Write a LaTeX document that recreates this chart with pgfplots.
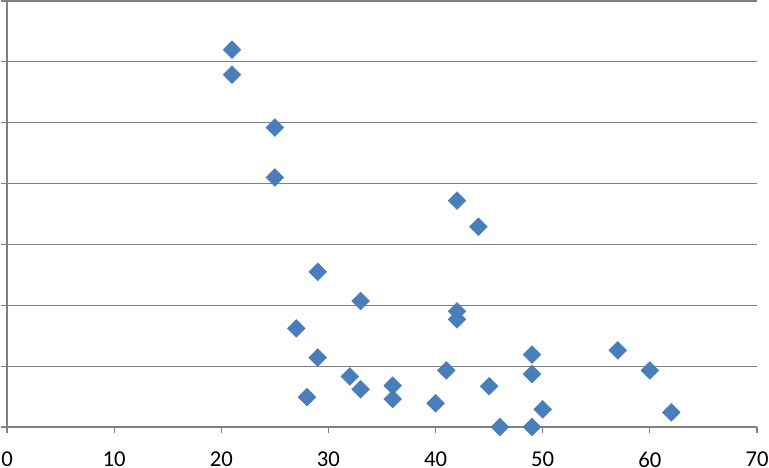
\documentclass[border=0pt]{standalone}
\usepackage{pgfplots}
\pgfplotsset{compat=1.18}
\usepackage{fontspec}
\setmainfont{Carlito}
\definecolor{mk}{HTML}{4A7EBB}
\definecolor{gr}{HTML}{808080}
\begin{document}
\begin{tikzpicture}
\begin{axis}[
  scale only axis,
  width=562.5pt, height=319.5pt,
  xmin=0, xmax=70, ymin=0, ymax=7,
  xtick={0,10,...,70},
  ytick={0,1,...,7},
  yticklabels={},
  ymajorgrids,
  grid style={gr, line width=0.85pt},
  axis x line*=bottom,
  axis y line*=left,
  axis line style={gr, line width=1pt, -},
  tick style={gr, line width=0.85pt},
  tick align=outside,
  major tick length=4.5pt,
  xtick pos=bottom, ytick pos=left,
  clip=false,
  tick label style={font=\fontsize{17}{20}\selectfont, text=black},
  /pgf/number format/assume math mode=true,
  xticklabel style={yshift=-10.5pt},
]
\addplot[only marks, mark=square*, mark size=4.7pt, mark options={rotate=45, fill=mk, draw=mk}]
coordinates {
(21,6.20) (21,5.79) (25,4.92) (25,4.10) (29,2.55) (27,1.62) (29,1.14)
(28,0.49) (33,2.07) (32,0.83) (33,0.62) (36,0.68) (36,0.46) (42,3.72)
(44,3.29) (42,1.90) (42,1.77) (41,0.93) (40,0.39) (45,0.67) (46,0.00)
(49,1.19) (49,0.87) (49,0.00) (50,0.29) (57,1.26) (60,0.93) (62,0.24)
};
\end{axis}
\pgfresetboundingbox
\useasboundingbox ([xshift=-5.25pt,yshift=-30pt]current axis.south west) rectangle ([xshift=9pt,yshift=0.75pt]current axis.north east);
\end{tikzpicture}
\end{document}
